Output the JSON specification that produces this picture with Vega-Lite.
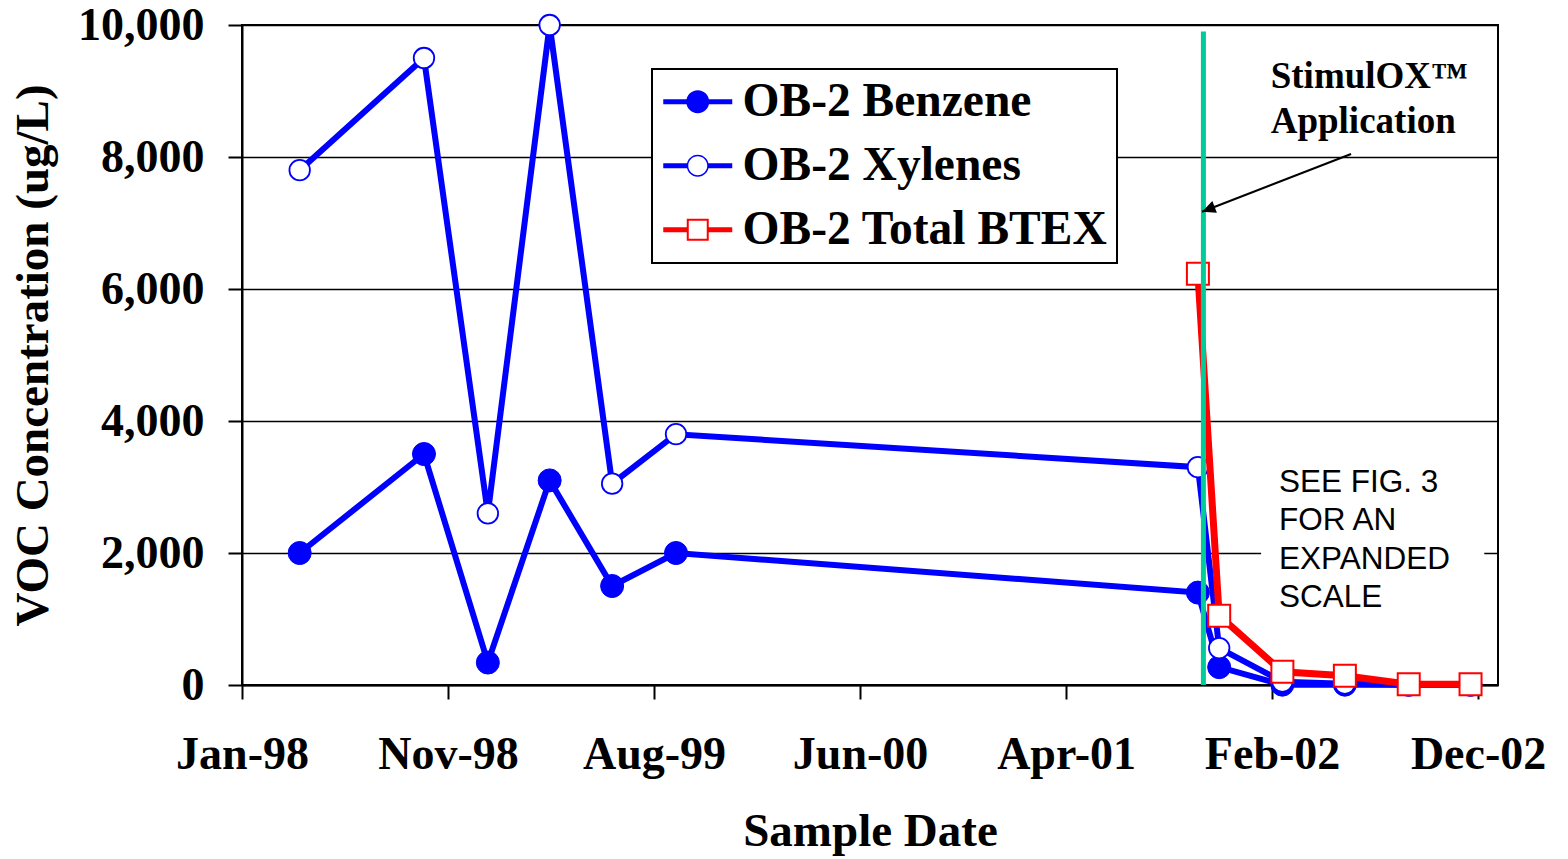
{
  "$schema": "https://vega.github.io/schema/vega-lite/v6.json",
  "width": 1256,
  "height": 660,
  "autosize": {"type": "none"},
  "padding": {"left": 242, "top": 25, "right": 70, "bottom": 174},
  "background": "white",
  "config": {
    "view": {"stroke": "black", "strokeWidth": 2},
    "legend": {"strokeWidth": 2},
    "axis": {
      "labelFont": "Liberation Serif", "labelFontWeight": "bold", "labelFontSize": 46, "labelColor": "black",
      "titleFont": "Liberation Serif", "titleFontWeight": "bold", "titleFontSize": 47, "titleColor": "black",
      "domainColor": "black", "domainWidth": 2, "tickColor": "black", "tickWidth": 2, "tickSize": 14,
      "labelOverlap": false, "labelFlush": false, "labelBound": false, "labelLimit": 400
    }
  },
  "datasets": {
    "voc": [
      {"date": "1998-03-30", "series": "OB-2 Benzene", "value": 2000},
      {"date": "1998-09-27", "series": "OB-2 Benzene", "value": 3500},
      {"date": "1998-12-29", "series": "OB-2 Benzene", "value": 340},
      {"date": "1999-03-29", "series": "OB-2 Benzene", "value": 3100},
      {"date": "1999-06-28", "series": "OB-2 Benzene", "value": 1500},
      {"date": "1999-09-29", "series": "OB-2 Benzene", "value": 2000},
      {"date": "2001-10-28", "series": "OB-2 Benzene", "value": 1400},
      {"date": "2001-11-28", "series": "OB-2 Benzene", "value": 270},
      {"date": "2002-02-28", "series": "OB-2 Benzene", "value": 5},
      {"date": "2002-05-30", "series": "OB-2 Benzene", "value": 5},
      {"date": "2002-08-31", "series": "OB-2 Benzene", "value": 2},
      {"date": "2002-11-29", "series": "OB-2 Benzene", "value": 2},
      {"date": "1998-03-30", "series": "OB-2 Xylenes", "value": 7800},
      {"date": "1998-09-27", "series": "OB-2 Xylenes", "value": 9500},
      {"date": "1998-12-29", "series": "OB-2 Xylenes", "value": 2600},
      {"date": "1999-03-29", "series": "OB-2 Xylenes", "value": 10000},
      {"date": "1999-06-28", "series": "OB-2 Xylenes", "value": 3050},
      {"date": "1999-09-29", "series": "OB-2 Xylenes", "value": 3800},
      {"date": "2001-10-28", "series": "OB-2 Xylenes", "value": 3300},
      {"date": "2001-11-28", "series": "OB-2 Xylenes", "value": 560},
      {"date": "2002-02-28", "series": "OB-2 Xylenes", "value": 50},
      {"date": "2002-05-30", "series": "OB-2 Xylenes", "value": 20},
      {"date": "2002-08-31", "series": "OB-2 Xylenes", "value": 5},
      {"date": "2002-11-29", "series": "OB-2 Xylenes", "value": 5},
      {"date": "2001-10-28", "series": "OB-2 Total BTEX", "value": 6230},
      {"date": "2001-11-28", "series": "OB-2 Total BTEX", "value": 1050},
      {"date": "2002-02-28", "series": "OB-2 Total BTEX", "value": 200},
      {"date": "2002-05-30", "series": "OB-2 Total BTEX", "value": 140},
      {"date": "2002-08-31", "series": "OB-2 Total BTEX", "value": 12},
      {"date": "2002-11-29", "series": "OB-2 Total BTEX", "value": 12}
    ]
  },
  "encoding": {
    "x": {
      "field": "date", "type": "temporal",
      "scale": {"type": "utc", "domain": [{"year": 1998, "month": 1, "date": 5, "utc": true}, {"year": 2003, "month": 1, "date": 8, "utc": true}]},
      "axis": {
        "title": "Sample Date",
        "values": [
          {"year": 1998, "month": 1, "date": 5, "utc": true},
          {"year": 1998, "month": 11, "date": 1, "utc": true},
          {"year": 1999, "month": 8, "date": 28, "utc": true},
          {"year": 2000, "month": 6, "date": 23, "utc": true},
          {"year": 2001, "month": 4, "date": 19, "utc": true},
          {"year": 2002, "month": 2, "date": 13, "utc": true},
          {"year": 2002, "month": 12, "date": 10, "utc": true}
        ],
        "format": "%b-%y", "grid": false,
        "labelPadding": 69, "labelBaseline": "alphabetic",
        "titleY": 160, "titleBaseline": "alphabetic"
      }
    },
    "y": {
      "field": "value", "type": "quantitative",
      "scale": {"domain": [0, 10000], "nice": false},
      "axis": {
        "title": "VOC Concentration (ug/L)",
        "values": [0, 2000, 4000, 6000, 8000, 10000],
        "format": ",d", "grid": true, "gridColor": "black", "gridWidth": 1.5,
        "labelPadding": 24, "titleX": -195, "titleBaseline": "alphabetic"
      }
    }
  },
  "layer": [
    {
      "data": {"values": [{"date": "2002-01-28", "end": "2002-12-19", "value": 3485, "value2": 985}]},
      "mark": {"type": "rect", "fill": "white", "strokeWidth": 0},
      "encoding": {"x2": {"field": "end"}, "y2": {"field": "value2"}}
    },
    {
      "data": {"name": "voc"},
      "transform": [{"filter": "datum.series === 'OB-2 Benzene'"}],
      "mark": {"type": "line", "color": "#0000FF", "strokeWidth": 6}
    },
    {
      "data": {"name": "voc"},
      "transform": [{"filter": "datum.series === 'OB-2 Benzene'"}],
      "mark": {"type": "point", "shape": "circle", "filled": true, "fill": "#0000FF", "stroke": "#0000FF", "strokeWidth": 1, "size": 529, "opacity": 1}
    },
    {
      "data": {"name": "voc"},
      "transform": [{"filter": "datum.series === 'OB-2 Xylenes'"}],
      "mark": {"type": "line", "color": "#0000FF", "strokeWidth": 6}
    },
    {
      "data": {"name": "voc"},
      "transform": [{"filter": "datum.series === 'OB-2 Xylenes'"}],
      "mark": {"type": "point", "shape": "circle", "filled": true, "fill": "#FFFFFF", "stroke": "#0000FF", "strokeWidth": 1.8, "size": 420, "opacity": 1}
    },
    {
      "data": {"name": "voc"},
      "transform": [{"filter": "datum.series === 'OB-2 Total BTEX'"}],
      "mark": {"type": "line", "color": "#FF0000", "strokeWidth": 7}
    },
    {
      "data": {"name": "voc"},
      "transform": [{"filter": "datum.series === 'OB-2 Total BTEX'"}],
      "mark": {"type": "point", "shape": "square", "filled": true, "fill": "#FFFFFF", "stroke": "#FF0000", "strokeWidth": 2, "size": 484, "opacity": 1}
    },
    {
      "data": {"name": "voc"},
      "mark": {"type": "point", "filled": true, "opacity": 0},
      "encoding": {
        "shape": {
          "field": "series", "type": "nominal",
          "scale": {
            "domain": ["OB-2 Benzene", "OB-2 Xylenes", "OB-2 Total BTEX"],
            "range": [
              "M-1.468 -0.11H1.468V0.11H-1.468ZM0.489 0A0.489 0.489 0 1 1 -0.489 0A0.489 0.489 0 1 1 0.489 0Z",
              "M-1.468 -0.11H-0.43V0.11H-1.468ZM0.43 -0.11H1.468V0.11H0.43ZM0.468 0A0.468 0.468 0 1 1 -0.468 0A0.468 0.468 0 1 1 0.468 0ZM0.404 0A0.404 0.404 0 1 0 -0.404 0A0.404 0.404 0 1 0 0.404 0Z",
              "M-1.468 -0.11H-0.42V0.11H-1.468ZM0.42 -0.11H1.468V0.11H0.42ZM-0.468 -0.468H0.468V0.468H-0.468ZM-0.383 -0.383V0.383H0.383V-0.383Z"
            ]
          },
          "legend": {
            "title": null, "orient": "none", "legendX": 410, "legendY": 44,
            "padding": 9, "fillColor": "white", "strokeColor": "black",
            "labelFont": "Liberation Serif", "labelFontWeight": "bold", "labelFontSize": 47.5, "labelColor": "black",
            "labelLimit": 1000, "labelOffset": 21, "symbolOffset": 13, "symbolSize": 2209, "symbolStrokeWidth": 0,
            "symbolOpacity": 1, "rowPadding": 15
          }
        },
        "fill": {
          "field": "series", "type": "nominal",
          "scale": {"domain": ["OB-2 Benzene", "OB-2 Xylenes", "OB-2 Total BTEX"], "range": ["#0000FF", "#0000FF", "#FF0000"]},
          "legend": {
            "title": null, "orient": "none", "legendX": 410, "legendY": 44,
            "padding": 9, "fillColor": "white", "strokeColor": "black",
            "labelFont": "Liberation Serif", "labelFontWeight": "bold", "labelFontSize": 47.5, "labelColor": "black",
            "labelLimit": 1000, "labelOffset": 21, "symbolOffset": 13, "symbolSize": 2209, "symbolStrokeWidth": 0,
            "symbolOpacity": 1, "rowPadding": 15
          }
        }
      }
    },
    {
      "data": {"values": [{"date": "2001-11-05", "value": 0, "value2": 9900}]},
      "mark": {"type": "rule", "color": "#00CC99", "strokeWidth": 5},
      "encoding": {"y2": {"field": "value2"}}
    },
    {
      "data": {"values": [{"date": "2002-06-08", "value": 8045, "date2": "2001-11-03", "value2": 7171}]},
      "mark": {"type": "rule", "color": "black", "strokeWidth": 2},
      "encoding": {"x2": {"field": "date2"}, "y2": {"field": "value2"}}
    },
    {
      "data": {"values": [{"date": "2001-11-03", "value": 7171}]},
      "mark": {"type": "point", "shape": "M0 0L-0.467 1L0.467 1Z", "angle": 249, "size": 729, "filled": true, "color": "black", "opacity": 1, "strokeWidth": 0}
    },
    {
      "data": {"values": [{"date": "2002-02-11", "value": 9045, "label": "StimulOX™\nApplication"}]},
      "mark": {"type": "text", "align": "left", "baseline": "alphabetic", "font": "Liberation Serif", "fontWeight": "bold", "fontSize": 37, "lineHeight": 45, "lineBreak": "\n", "color": "black"},
      "encoding": {"text": {"field": "label"}}
    },
    {
      "data": {"values": [{"date": "2002-02-23", "value": 2924, "label": "SEE FIG. 3\nFOR AN\nEXPANDED\nSCALE"}]},
      "mark": {"type": "text", "align": "left", "baseline": "alphabetic", "font": "Liberation Sans", "fontSize": 31.5, "lineHeight": 38.3, "lineBreak": "\n", "color": "black"},
      "encoding": {"text": {"field": "label"}}
    }
  ]
}
